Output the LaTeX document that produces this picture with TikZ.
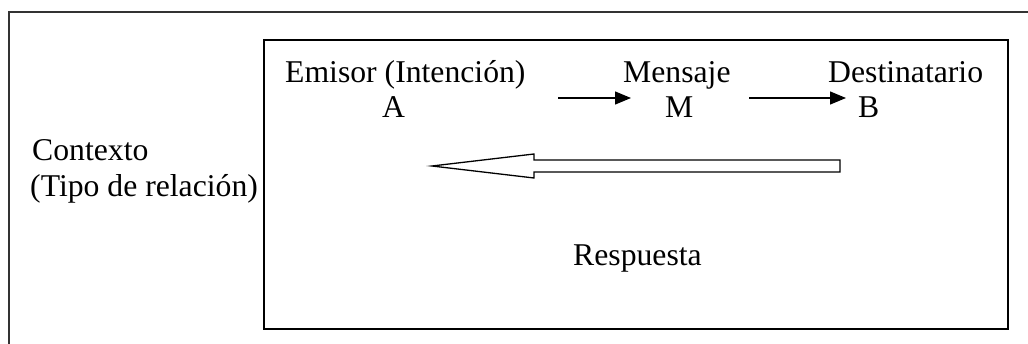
\documentclass[tikz,border=0pt]{standalone}
\usepackage{fontspec}
\setmainfont{Liberation Serif}
\usetikzlibrary{arrows.meta}
\begin{document}
\begin{tikzpicture}[x=1pt,y=-1pt,
  label/.style={anchor=base west,inner sep=0pt,font=\fontsize{31.7}{35}\selectfont},
  frame/.style={line width=1.3pt,draw=black!80},
  inner/.style={line width=1.6pt,draw=black},
  flow/.style={line width=1.3pt,-{Triangle[length=16pt,width=13pt]}},
  reply/.style={line width=1.3pt,draw=black,fill=white,line join=miter}]
\useasboundingbox (0,0) rectangle (1028,343);
% outer frame (open at right and bottom)
\draw[frame] (9,345) -- (9,12) -- (1030,12);
% inner box
\draw[inner] (264,40) rectangle (1008,329);
% labels
\node[label] (emisor) at (285,82) {Emisor (Intención)};
\node[label] (a) at (382,117) {A};
\node[label] (mensaje) at (623,82) {Mensaje};
\node[label] (m) at (665,117) {M};
\node[label] (dest) at (828,82) {Destinatario};
\node[label] (b) at (858,117) {B};
\node[label] (ctx) at (32,160) {Contexto};
\node[label] (tipo) at (30,196) {(Tipo de relación)};
\node[label] (resp) at (573,265) {Respuesta};
% message arrows
\coordinate (s1) at (558,98);
\coordinate (e1) at (631,98);
\coordinate (s2) at (749,98);
\coordinate (e2) at (846,98);
\draw[flow] (s1) -- (e1);
\draw[flow] (s2) -- (e2);
% hollow reply arrow
\draw[reply] (432,166) -- (534,154) -- (534,160) -- (840,160) -- (840,172) -- (534,172) -- (534,178) -- cycle;
\end{tikzpicture}
\end{document}
